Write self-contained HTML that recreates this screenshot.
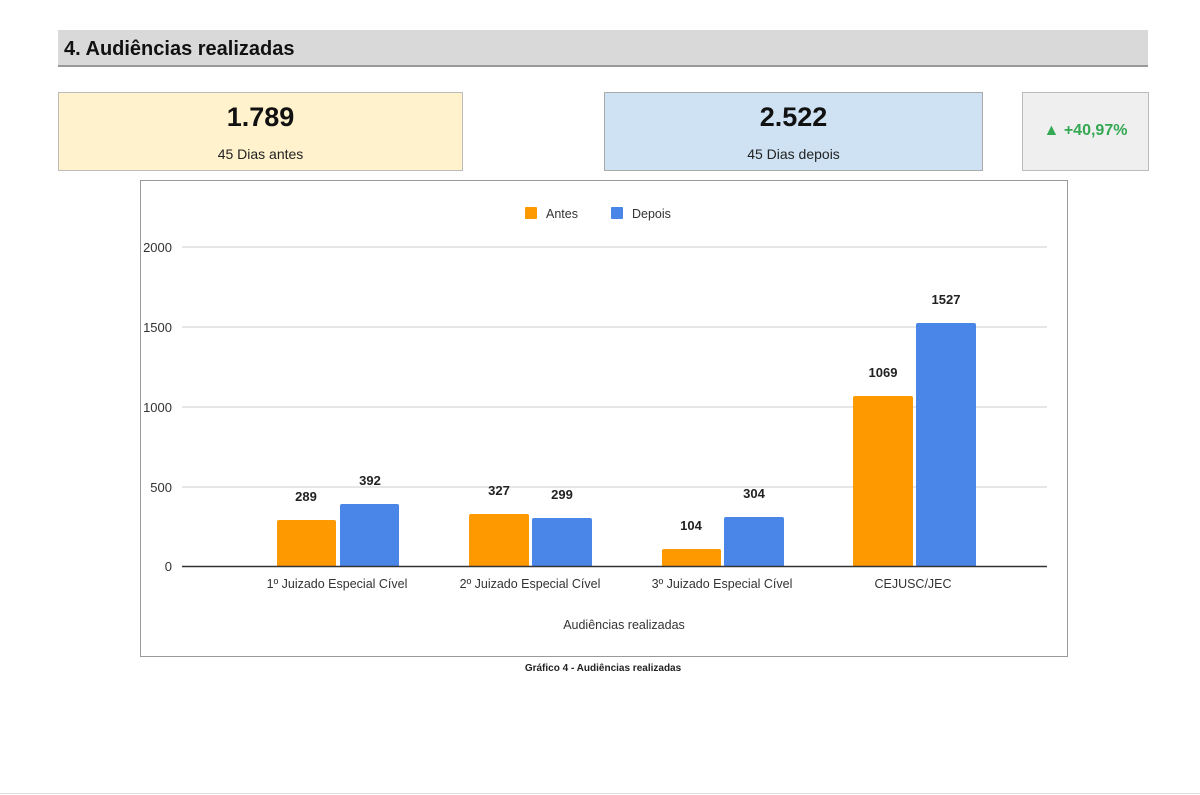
<!DOCTYPE html>
<html><head><meta charset="utf-8"><style>
body{margin:0;background:#fff;width:1200px;height:795px;overflow:hidden;font-family:"Liberation Sans",Arial,sans-serif}
.abs{position:absolute}
</style></head><body>
<div class="abs" style="left:58px;top:30px;width:1090px;height:35px;background:#d9d9d9;border-bottom:2px solid #999"></div>
<div class="abs" style="left:64px;top:38px;font-size:20px;font-weight:bold;color:#111">4. Audiências realizadas</div>
<div class="abs" style="left:58px;top:92px;width:403px;height:77px;background:#fff2cc;border:1px solid #bbb;text-align:center">
<div style="font-size:27px;font-weight:bold;margin-top:9px;color:#111">1.789</div>
<div style="font-size:14px;margin-top:13px;color:#222">45 Dias antes</div></div>
<div class="abs" style="left:604px;top:92px;width:377px;height:77px;background:#cfe2f3;border:1px solid #aaa;text-align:center">
<div style="font-size:27px;font-weight:bold;margin-top:9px;color:#111">2.522</div>
<div style="font-size:14px;margin-top:13px;color:#222">45 Dias depois</div></div>
<div class="abs" style="left:1022px;top:92px;width:125px;height:77px;background:#efefef;border:1px solid #bbb;text-align:center">
<div style="font-size:16px;font-weight:bold;color:#34a853;margin-top:29px">▲ +40,97%</div></div>
<div class="abs" style="left:140px;top:180px;width:926px;height:475px;border:1px solid #999"></div>
<svg class="abs" style="left:0;top:0" width="1200" height="795" font-family="Liberation Sans, Arial, sans-serif">
<g stroke="#ccc" stroke-width="1">
<line x1="182" y1="247" x2="1047" y2="247"/><line x1="182" y1="327" x2="1047" y2="327"/>
<line x1="182" y1="407" x2="1047" y2="407"/><line x1="182" y1="487" x2="1047" y2="487"/>
</g>
<g font-size="13" fill="#333" text-anchor="end">
<text x="172" y="252">2000</text><text x="172" y="332">1500</text><text x="172" y="412">1000</text><text x="172" y="492">500</text><text x="172" y="571">0</text>
</g>
<rect x="525" y="207" width="12" height="12" fill="#ff9900" rx="1"/><text x="546" y="218" font-size="12.5" fill="#333">Antes</text>
<rect x="611" y="207" width="12" height="12" fill="#4a86e8" rx="1"/><text x="632" y="218" font-size="12.5" fill="#333">Depois</text>
<g>
<path d="M277 566V522q0-2 2-2h55q2 0 2 2V566Z" fill="#ff9900"/>
<path d="M340 566V506q0-2 2-2h55q2 0 2 2V566Z" fill="#4a86e8"/>
<path d="M469 566V516q0-2 2-2h56q2 0 2 2V566Z" fill="#ff9900"/>
<path d="M532 566V520q0-2 2-2h56q2 0 2 2V566Z" fill="#4a86e8"/>
<path d="M662 566V551q0-2 2-2h55q2 0 2 2V566Z" fill="#ff9900"/>
<path d="M724 566V519q0-2 2-2h56q2 0 2 2V566Z" fill="#4a86e8"/>
<path d="M853 566V398q0-2 2-2h56q2 0 2 2V566Z" fill="#ff9900"/>
<path d="M916 566V325q0-2 2-2h56q2 0 2 2V566Z" fill="#4a86e8"/>
</g>
<g font-size="13" font-weight="bold" fill="#222" text-anchor="middle">
<text x="306" y="501">289</text><text x="370" y="485">392</text>
<text x="499" y="495">327</text><text x="562" y="499">299</text>
<text x="691" y="530">104</text><text x="754" y="498">304</text>
<text x="883" y="377">1069</text><text x="946" y="304">1527</text>
</g>
<line x1="182" y1="566.5" x2="1047" y2="566.5" stroke="#333" stroke-width="1.5"/>
<g font-size="12.5" fill="#333" text-anchor="middle">
<text x="337" y="588">1º Juizado Especial Cível</text>
<text x="530" y="588">2º Juizado Especial Cível</text>
<text x="722" y="588">3º Juizado Especial Cível</text>
<text x="913" y="588">CEJUSC/JEC</text>
<text x="624" y="629">Audiências realizadas</text>
</g>
<text x="603" y="671" font-size="10" font-weight="bold" fill="#222" text-anchor="middle">Gráfico 4 - Audiências realizadas</text>
<line x1="0" y1="793.5" x2="1200" y2="793.5" stroke="#ddd"/>
</svg>
</body></html>
